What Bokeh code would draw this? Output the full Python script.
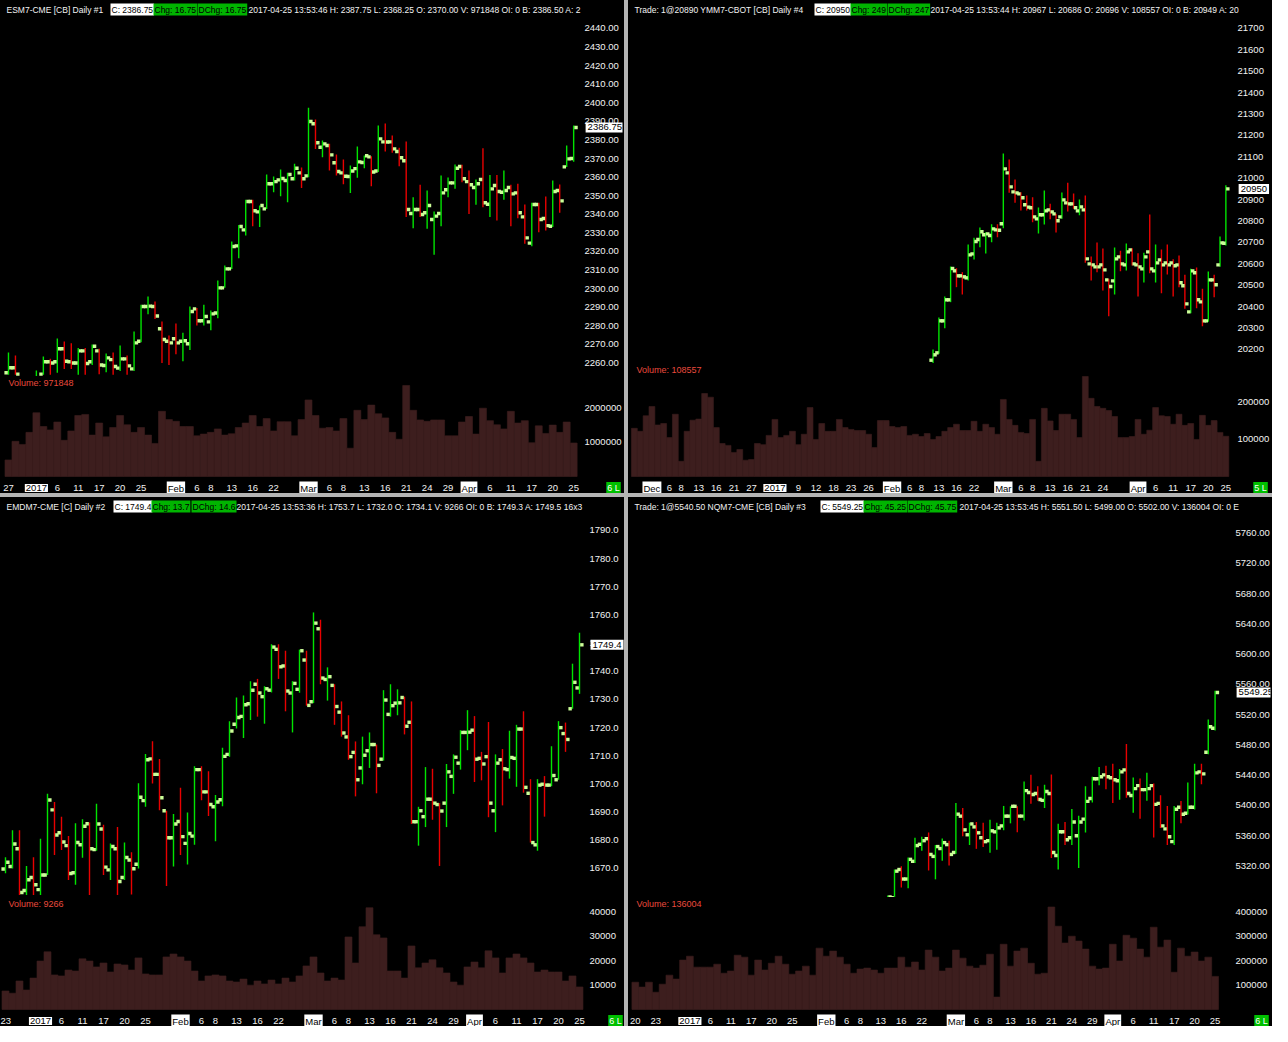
import numpy as np
from bokeh.plotting import figure
from bokeh.models import ColumnDataSource, Range1d, FixedTicker, PrintfTickFormatter, Label
from bokeh.layouts import row, column
from bokeh.transform import dodge
from bokeh.embed import file_html
from bokeh.resources import INLINE

nan = float("nan")

# ---------------- ESM7 (top-left) ----------------
es_day = list(range(82))
es_open = [2254.7, 2257.4, nan, nan, 2240.0, 2254.0, 2260.6, 2260.6, 2267.6, 2260.6,
           2260.0, 2266.5, 2260.6, 2266.5, 2258.6, 2261.8, 2257.2, 2262.2, 2256.8, 2271.7,
           2290.4, 2290.4, 2278.4, 2271.7, 2273.0, 2271.7, 2270.3, 2289.1, 2282.7, 2282.1,
           2286.9, 2300.4, 2310.6, 2323.0, 2331.6, 2346.9, 2341.3, 2342.9, 2356.4, 2358.5,
           2358.2, 2359.1, 2362.3, 2360.7, 2388.7, 2376.1, 2377.0, 2367.7, 2362.3, 2360.3,
           2364.6, 2367.9, 2370.9, 2363.3, 2379.0, 2379.0, 2373.8, 2368.8, 2340.4, 2342.6,
           2340.8, 2337.2, 2340.4, 2353.2, 2356.9, 2365.7, 2357.6, 2354.4, 2358.7, 2345.4,
           2355.5, 2351.9, 2354.4, 2351.5, 2338.6, 2324.5, 2345.3, 2337.7, 2333.6, 2352.8,
           2365.5, 2370.0]
es_high = [2265.6, 2264.0, nan, nan, 2255.9, 2263.5, 2262.2, 2273.1, 2271.5, 2270.6,
           2268.1, 2268.1, 2269.9, 2267.6, 2265.1, 2265.6, 2269.4, 2264.0, 2276.9, 2291.3,
           2295.7, 2293.0, 2282.3, 2274.8, 2281.2, 2276.2, 2290.4, 2289.6, 2291.3, 2288.2,
           2304.4, 2312.4, 2325.4, 2334.3, 2347.8, 2347.8, 2344.7, 2361.4, 2360.3, 2364.1,
           2362.3, 2367.2, 2365.2, 2397.3, 2391.0, 2379.7, 2377.9, 2372.2, 2369.5, 2366.3,
           2376.5, 2371.6, 2371.3, 2387.8, 2388.9, 2382.4, 2375.8, 2379.2, 2349.2, 2355.9,
           2352.8, 2341.5, 2360.9, 2359.8, 2366.8, 2366.6, 2363.6, 2358.7, 2375.6, 2361.2,
           2361.2, 2363.6, 2355.9, 2356.4, 2345.3, 2346.2, 2346.2, 2349.6, 2358.2, 2356.0,
           2377.0, 2387.75]
es_low = [2253.6, 2253.6, nan, nan, 2236.0, 2253.6, 2253.6, 2254.7, 2256.8, 2256.8,
          2253.6, 2253.6, 2258.9, 2253.9, 2255.0, 2253.6, 2255.7, 2253.6, 2255.7, 2271.2,
          2286.2, 2283.7, 2260.0, 2258.9, 2264.7, 2260.9, 2266.9, 2280.2, 2280.2, 2277.6,
          2284.1, 2300.4, 2310.6, 2316.4, 2328.6, 2333.6, 2333.1, 2342.9, 2351.9, 2349.7,
          2346.5, 2358.2, 2354.1, 2360.0, 2375.2, 2370.7, 2363.6, 2360.9, 2356.2, 2351.5,
          2359.6, 2364.8, 2355.1, 2362.7, 2373.8, 2373.1, 2365.9, 2338.5, 2332.5, 2338.5,
          2332.2, 2318.2, 2333.6, 2349.2, 2353.7, 2357.3, 2340.2, 2345.1, 2343.8, 2338.5,
          2336.6, 2347.8, 2333.6, 2337.9, 2324.1, 2322.8, 2330.4, 2331.3, 2333.1, 2340.8,
          2365.4, 2368.25]
es_close = [2257.4, 2254.0, nan, nan, 2247.0, 2260.6, 2260.0, 2267.6, 2260.9, 2260.0,
            2266.5, 2259.7, 2269.0, 2258.9, 2262.7, 2258.1, 2262.2, 2258.4, 2270.8, 2290.4,
            2290.6, 2285.3, 2272.6, 2270.8, 2270.8, 2271.9, 2287.7, 2282.7, 2285.0, 2286.4,
            2300.4, 2310.6, 2322.7, 2333.4, 2346.9, 2341.9, 2344.7, 2356.4, 2357.6, 2359.3,
            2361.4, 2364.8, 2359.1, 2389.9, 2378.5, 2377.9, 2372.0, 2363.0, 2360.5, 2363.3,
            2368.2, 2371.5, 2362.8, 2380.6, 2378.9, 2375.2, 2370.4, 2342.6, 2342.6, 2339.9,
            2344.7, 2339.0, 2351.5, 2356.9, 2364.8, 2359.1, 2355.9, 2356.4, 2346.2, 2353.7,
            2352.3, 2352.8, 2351.0, 2340.8, 2327.3, 2345.3, 2337.2, 2333.9, 2352.3, 2347.2,
            2369.8, 2386.75]
es_volume = [480000, 1020000, 930000, 1280000, 1850000, 1450000, 1350000, 1580000, 1050000, 1320000,
             1770000, 1800000, 1200000, 1550000, 1150000, 1420000, 1770000, 1500000, 1280000, 1420000,
             1200000, 960000, 1890000, 1650000, 1600000, 1450000, 1450000, 1180000, 1230000, 1280000,
             1380000, 1200000, 1240000, 1420000, 1550000, 1770000, 1450000, 1680000, 1320000, 1590000,
             1590000, 1180000, 1650000, 2220000, 1770000, 1400000, 1420000, 1320000, 1680000, 820000,
             1920000, 1650000, 2070000, 1820000, 1700000, 1280000, 1080000, 2640000, 1920000, 1640000,
             1600000, 1640000, 1640000, 1180000, 1180000, 1580000, 1740000, 1230000, 1980000, 1620000,
             1500000, 1380000, 1890000, 1550000, 1620000, 980000, 1470000, 1250000, 1490000, 1280000,
             1580000, 971848]
es_price_ticks = [2260, 2270, 2280, 2290, 2300, 2310, 2320, 2330, 2340, 2350,
                  2360, 2370, 2380, 2390, 2400, 2410, 2420, 2430, 2440]
es_volume_ticks = [1000000, 2000000]
es_date_pos = [0, 4, 7, 10, 13, 16, 19, 24, 27, 29, 32, 35, 38, 43, 46, 48, 51, 54, 57, 60, 63, 66, 69, 72, 75, 78, 81]
es_date_txt = ["27", "2017", "6", "11", "17", "20", "25", "Feb", "6", "8", "13", "16", "22", "Mar", "6", "8",
               "13", "16", "21", "24", "29", "Apr", "6", "11", "17", "20", "25"]

# ---------------- YMM7 (top-right) ----------------
ym_volume_day = list(range(-3, 99))
ym_price_day = list(range(48, 99))
ym_open = [20150, 20184.4, 20333.9, 20432.0, 20567.4, 20544.1, 20534.7, 20646.8, 20713.8, 20735.6,
           20732.5, 20758.9, 20787.0, 21025.1, 20936.4, 20927.0, 20875.7, 20861.7, 20810.3, 20829.0,
           20852.3, 20833.6, 20819.6, 20885.0, 20880.3, 20847.6, 20852.3, 20600.1, 20586.1, 20595.4,
           20525.4, 20520.7, 20632.8, 20595.4, 20665.5, 20595.4, 20576.7, 20656.1, 20567.4, 20618.8,
           20604.8, 20604.8, 20595.4, 20497.4, 20375.9, 20558.1, 20422.6, 20333.9, 20525.4, 20595.4,
           20696]
ym_high = [20200, 20349.4, 20447.5, 20587.7, 20579.9, 20561.2, 20690.4, 20721.6, 20769.8, 20748.0,
           20785.4, 20785.4, 21115.4, 21087.4, 20994.0, 20934.8, 20919.3, 20911.5, 20863.2, 20942.6,
           20880.3, 20833.6, 20933.3, 20978.4, 20928.6, 20900.6, 20919.3, 20634.4, 20699.7, 20671.7,
           20530.0, 20676.4, 20660.8, 20695.1, 20673.3, 20649.9, 20651.5, 20830.5, 20690.4, 20667.1,
           20690.4, 20621.9, 20639.0, 20548.7, 20576.7, 20583.0, 20483.4, 20564.3, 20548.7, 20727.8,
           20967]
ym_low = [20135, 20179.7, 20299.6, 20421.1, 20491.1, 20456.9, 20522.3, 20620.3, 20677.9, 20648.4,
          20701.3, 20724.7, 20766.7, 20931.7, 20885.0, 20849.2, 20849.2, 20794.7, 20741.8, 20783.8,
          20808.7, 20746.5, 20810.3, 20844.5, 20857.0, 20827.4, 20604.8, 20522.3, 20561.2, 20475.5,
          20355.7, 20456.9, 20565.9, 20569.0, 20592.3, 20447.5, 20512.9, 20556.5, 20512.9, 20463.1,
          20550.3, 20447.5, 20491.1, 20389.9, 20369.7, 20393.0, 20309.0, 20330.0, 20444.4, 20586.1,
          20686]
ym_close = [20175.1, 20333.9, 20432.0, 20578.3, 20544.1, 20539.4, 20642.1, 20704.4, 20749.6, 20740.2,
            20763.6, 20757.0, 21043.8, 20959.7, 20931.7, 20908.4, 20864.8, 20819.6, 20829.0, 20847.6,
            20843.0, 20801.0, 20899.0, 20880.3, 20861.7, 20866.3, 20623.4, 20595.4, 20586.0, 20572.1,
            20494.3, 20623.4, 20600.1, 20656.1, 20600.1, 20586.1, 20632.8, 20576.7, 20604.8, 20595.4,
            20595.4, 20590.8, 20511.4, 20413.3, 20567.4, 20432.0, 20333.9, 20525.4, 20502.1, 20698.2,
            20950]
ym_volume = [130000, 122000, 164000, 189000, 139000, 143000, 105000, 168000, 41000, 122000,
             152000, 155000, 224000, 214000, 132000, 89000, 84000, 65000, 73000, 44000,
             46000, 89000, 86000, 111000, 154000, 105000, 111000, 122000, 86000, 114000,
             186000, 100000, 143000, 122000, 122000, 154000, 132000, 127000, 124000, 124000,
             114000, 78000, 151000, 151000, 135000, 132000, 135000, 111000, 114000, 108000,
             116000, 100000, 108000, 122000, 132000, 141000, 124000, 124000, 149000, 122000,
             141000, 132000, 114000, 208000, 154000, 138000, 119000, 116000, 154000, 41000,
             184000, 150000, 124000, 168000, 168000, 154000, 105000, 270000, 211000, 189000,
             184000, 178000, 162000, 105000, 105000, 108000, 154000, 114000, 125000, 186000,
             164000, 162000, 141000, 168000, 138000, 143000, 100000, 165000, 138000, 151000,
             119000, 108557]
ym_price_ticks = [20200, 20300, 20400, 20500, 20600, 20700, 20800, 20900, 21000, 21100,
                  21200, 21300, 21400, 21500, 21600, 21700]
ym_volume_ticks = [100000, 200000]
ym_date_pos = [0, 3, 5, 8, 11, 14, 17, 21, 25, 28, 31, 34, 37, 41, 44, 46, 49, 52, 55, 60, 63, 65, 68, 71,
               74, 77, 83, 86, 89, 92, 95, 98]
ym_date_txt = ["Dec", "6", "8", "13", "16", "21", "27", "2017", "9", "12", "18", "23", "26", "Feb", "6", "8",
               "13", "16", "22", "Mar", "6", "8", "13", "16", "21", "24", "Apr", "6", "11", "17", "20", "25"]

# ---------------- EMDM7 (bottom-left) ----------------
emd_day = list(range(83))
emd_open = [1669.8, 1670.7, 1677.0, 1662.2, 1666.8, 1662.5, 1667.7, 1690.8, 1682.7, 1678.1,
            1668.5, 1678.4, 1685.9, 1676.7, 1684.0, 1669.5, 1677.0, 1666.8, 1673.0, 1671.5,
            1694.1, 1708.9, 1703.4, 1690.5, 1680.9, 1686.7, 1678.9, 1681.5, 1705.1, 1697.2,
            1691.9, 1694.4, 1710.5, 1721.2, 1724.0, 1728.5, 1735.4, 1731.0, 1733.3, 1747.8,
            1741.9, 1732.3, 1733.6, 1744.0, 1729.2, 1755.1, 1737.1, 1735.0, 1725.5, 1716.7,
            1711.2, 1705.7, 1711.8, 1714.0, 1708.8, 1724.7, 1728.7, 1730.7, 1721.9, 1686.6,
            1688.4, 1694.6, 1692.7, 1693.2, 1702.7, 1707.4, 1718.3, 1719.1, 1709.1, 1709.7,
            1690.5, 1708.6, 1705.1, 1709.1, 1719.5, 1696.7, 1678.4, 1699.9, 1699.6, 1701.5,
            1717.9, 1726.7, 1734.1]
emd_high = [1674.0, 1683.6, 1683.6, 1670.9, 1674.0, 1680.6, 1696.5, 1693.6, 1688.4, 1681.5,
            1686.1, 1687.5, 1686.3, 1693.0, 1685.5, 1678.9, 1684.7, 1679.2, 1675.8, 1700.3,
            1710.6, 1715.2, 1708.9, 1690.5, 1689.3, 1698.7, 1689.9, 1706.3, 1706.3, 1704.5,
            1696.1, 1712.9, 1722.3, 1730.7, 1731.4, 1736.5, 1737.3, 1734.7, 1749.6, 1749.6,
            1747.3, 1736.5, 1747.7, 1747.3, 1760.9, 1758.3, 1741.4, 1735.4, 1729.3, 1724.4,
            1715.1, 1716.8, 1718.3, 1714.0, 1733.3, 1735.4, 1733.6, 1731.0, 1729.3, 1691.9,
            1706.0, 1705.4, 1693.2, 1707.1, 1710.5, 1719.1, 1726.2, 1724.1, 1711.4, 1722.0,
            1710.5, 1712.4, 1718.9, 1721.0, 1725.8, 1701.7, 1701.7, 1702.8, 1713.4, 1722.3,
            1721.8, 1742.7, 1753.7]
emd_low = [1668.3, 1670.0, 1660.6, 1660.6, 1660.6, 1660.6, 1667.7, 1674.8, 1676.6, 1665.9,
           1664.2, 1673.8, 1660.6, 1676.3, 1667.7, 1665.9, 1660.6, 1665.9, 1660.8, 1670.0,
           1691.9, 1700.2, 1690.7, 1663.8, 1670.7, 1674.8, 1671.4, 1678.4, 1694.2, 1688.6,
           1679.7, 1692.1, 1709.7, 1719.7, 1716.3, 1722.7, 1723.9, 1721.4, 1732.5, 1737.3,
           1725.8, 1718.3, 1732.4, 1727.8, 1728.7, 1735.4, 1729.6, 1721.0, 1716.8, 1708.6,
           1695.6, 1699.9, 1705.7, 1696.7, 1708.3, 1723.9, 1724.4, 1717.6, 1685.8, 1678.1,
           1684.7, 1687.3, 1670.9, 1684.7, 1696.5, 1705.1, 1712.0, 1700.7, 1701.3, 1688.2,
           1682.9, 1692.4, 1701.9, 1699.0, 1696.9, 1679.2, 1676.3, 1688.4, 1699.2, 1701.5,
           1711.4, 1726.7, 1732.0]
emd_close = [1672.2, 1678.7, 1661.5, 1666.0, 1664.2, 1667.7, 1694.3, 1681.9, 1679.4, 1668.2,
             1679.2, 1685.0, 1677.0, 1685.8, 1670.5, 1677.8, 1665.4, 1673.9, 1669.9, 1695.3,
             1708.6, 1703.4, 1695.1, 1680.9, 1685.8, 1681.3, 1682.4, 1705.1, 1697.2, 1692.7,
             1693.6, 1709.8, 1718.8, 1723.6, 1728.1, 1733.3, 1732.3, 1733.8, 1748.6, 1741.6,
             1733.0, 1735.7, 1747.3, 1727.9, 1757.1, 1737.6, 1738.1, 1727.5, 1718.1, 1709.7,
             1701.5, 1710.2, 1714.0, 1706.6, 1729.8, 1727.8, 1728.8, 1720.5, 1686.6, 1690.5,
             1694.6, 1693.2, 1690.4, 1704.3, 1709.5, 1718.3, 1718.4, 1708.8, 1707.1, 1693.2,
             1707.4, 1705.4, 1709.4, 1719.5, 1698.8, 1679.2, 1699.6, 1699.6, 1703.0, 1720.0,
             1715.8, 1736.1, 1749.4]
emd_volume = [7600, 6700, 11700, 8000, 12900, 19900, 23700, 14200, 13800, 16200,
              15800, 20800, 19900, 17500, 19100, 15400, 18700, 18300, 16200, 21200,
              14600, 14200, 14200, 21600, 22800, 21600, 19900, 15800, 11700, 13800,
              14200, 13800, 11700, 11300, 12500, 10000, 11700, 10500, 12100, 10500,
              12900, 11300, 13800, 17900, 21600, 15000, 11700, 12900, 12100, 29800,
              19100, 34000, 41800, 30700, 29400, 15800, 15800, 12900, 26100, 17100,
              19100, 20400, 17100, 15000, 11300, 10000, 17500, 19500, 17100, 24100,
              21200, 15000, 21200, 22800, 21200, 19100, 15400, 16200, 15400, 15400,
              11700, 13800, 9266]
emd_price_ticks = [1670, 1680, 1690, 1700, 1710, 1720, 1730, 1740, 1750, 1760, 1770, 1780, 1790]
emd_volume_ticks = [10000, 20000, 30000, 40000]
emd_date_pos = [0, 5, 8, 11, 14, 17, 20, 25, 28, 30, 33, 36, 39, 44, 47, 49, 52, 55, 58, 61, 64, 67, 70, 73, 76, 79, 82]
emd_date_txt = ["23", "2017", "6", "11", "17", "20", "25", "Feb", "6", "8", "13", "16", "22", "Mar", "6", "8",
                "13", "16", "21", "24", "29", "Apr", "6", "11", "17", "20", "25"]

# ---------------- NQM7 (bottom-right) ----------------
nq_volume_day = list(range(86))
nq_price_day = list(range(37, 86))
nq_open = [5270, 5278, 5315.3, 5302.7, 5326.1, 5348.6, 5356.0, 5332.6, 5343.0, 5348.2,
           5337.8, 5385.8, 5361.2, 5371.6, 5357.3, 5353.4, 5365.1, 5372.9, 5385.8, 5398.8,
           5385.8, 5417.0, 5415.7, 5406.6, 5415.7, 5333.9, 5365.1, 5357.3, 5359.9, 5381.9,
           5409.2, 5435.2, 5440.4, 5436.5, 5432.6, 5446.9, 5413.1, 5426.1, 5420.9, 5426.1,
           5402.7, 5369.0, 5352.1, 5397.5, 5389.7, 5397.5, 5444.3, 5470.3, 5502.0]
nq_high = [5281, 5315.3, 5319.6, 5331.3, 5357.3, 5358.6, 5364.2, 5347.7, 5356.4, 5353.4,
           5403.2, 5396.7, 5377.2, 5378.1, 5377.2, 5381.1, 5377.2, 5399.3, 5398.8, 5398.8,
           5431.7, 5440.4, 5425.2, 5427.4, 5441.0, 5375.9, 5378.1, 5395.4, 5386.3, 5425.2,
           5437.8, 5450.8, 5452.5, 5455.1, 5448.2, 5481.1, 5436.9, 5435.6, 5443.0, 5429.1,
           5413.5, 5399.3, 5399.3, 5405.8, 5430.4, 5455.1, 5455.1, 5513.5, 5551.5]
nq_low = [5262, 5275, 5291.5, 5290.6, 5323.9, 5340.0, 5314.0, 5302.3, 5327.0, 5320.5,
          5336.0, 5359.4, 5347.7, 5342.6, 5345.2, 5337.4, 5341.3, 5367.2, 5376.3, 5364.6,
          5380.2, 5402.3, 5406.0, 5396.7, 5330.4, 5315.3, 5347.7, 5347.7, 5317.4, 5364.2,
          5404.0, 5426.5, 5421.3, 5403.2, 5407.5, 5410.1, 5390.2, 5382.4, 5406.2, 5357.7,
          5370.3, 5347.7, 5347.7, 5376.3, 5388.0, 5394.5, 5427.8, 5467.7, 5499.0]
nq_close = [5279, 5313.1, 5302.7, 5328.7, 5346.9, 5353.4, 5335.2, 5345.6, 5350.8, 5335.2,
            5388.4, 5367.7, 5375.5, 5363.8, 5352.1, 5366.4, 5370.3, 5385.8, 5398.8, 5385.8,
            5419.6, 5414.4, 5407.9, 5418.3, 5337.8, 5365.1, 5354.7, 5378.1, 5378.1, 5405.3,
            5435.2, 5437.8, 5437.8, 5433.9, 5444.3, 5415.7, 5422.2, 5420.9, 5422.2, 5401.4,
            5372.9, 5358.6, 5394.9, 5388.4, 5397.5, 5443.0, 5441.7, 5504.0, 5549.25]
nq_volume = [112000, 92000, 112000, 71000, 104000, 141000, 125000, 203000, 219000, 174000,
             174000, 174000, 186000, 149000, 158000, 223000, 215000, 141000, 203000, 162000,
             190000, 219000, 186000, 145000, 158000, 178000, 141000, 252000, 219000, 240000,
             215000, 186000, 149000, 166000, 170000, 162000, 149000, 170000, 170000, 215000,
             174000, 195000, 162000, 244000, 215000, 158000, 170000, 244000, 211000, 178000,
             170000, 182000, 227000, 51000, 268000, 178000, 240000, 252000, 190000, 145000,
             149000, 421000, 342000, 273000, 301000, 281000, 248000, 178000, 166000, 170000,
             268000, 199000, 305000, 293000, 248000, 215000, 338000, 256000, 285000, 153000,
             252000, 219000, 236000, 199000, 215000, 136004]
nq_price_ticks = [5320, 5360, 5400, 5440, 5480, 5520, 5560, 5600, 5640, 5680, 5720, 5760]
nq_volume_ticks = [100000, 200000, 300000, 400000]
nq_date_pos = [0, 3, 8, 11, 14, 17, 20, 23, 28, 31, 33, 36, 39, 42, 47, 50, 52, 55, 58, 61, 64, 67, 70, 73, 76,
               79, 82, 85]
nq_date_txt = ["20", "23", "2017", "6", "11", "17", "20", "25", "Feb", "6", "8", "13", "16", "22", "Mar", "6",
               "8", "13", "16", "21", "24", "29", "Apr", "6", "11", "17", "20", "25"]

BOXED = {"2017", "Dec", "Feb", "Mar", "Apr"}

# ---------------- styles ----------------
BG = "#000000"
UP = "#00e400"
DN = "#e80000"
SQ = "#ccff99"
VOLC = "#3d1e1e"
TXT = "#f2f2f2"
HGREEN = "#00b400"
FONT = "Liberation Sans"
AX = 17          # height of the date row under the volume bars
XSTAND = -9      # pulls the date labels up into the date row


def style_axis(ax, standoff, size="9.5px"):
    ax.axis_line_color = None
    ax.major_tick_line_color = None
    ax.minor_tick_line_color = None
    ax.major_tick_out = 0
    ax.major_tick_in = 0
    ax.major_label_text_color = TXT
    ax.major_label_text_font = FONT
    ax.major_label_text_font_size = size
    ax.major_label_standoff = standoff


def make_panel(cfg):
    W = cfg["W"]
    ppb = cfg["ppb"]
    x0 = cfg["x0"]
    xr = Range1d(x0, x0 + W / ppb)
    lab_px = cfg["lab_px"]          # where the right-hand tick labels start
    ystand = lab_px - W
    Hp, Hv = cfg["Hp"], cfg["Hv"]

    # ---- price ----
    p = figure(width=W, height=Hp, x_range=xr, y_range=Range1d(*cfg["pr"]),
               x_axis_location=None, y_axis_location="right",
               toolbar_location=None, output_backend="svg",
               background_fill_color=BG, border_fill_color=BG, outline_line_color=None,
               min_border=0)
    p.grid.visible = False
    ya = p.yaxis[0]
    style_axis(ya, ystand)
    ya.ticker = FixedTicker(ticks=cfg["pticks"])
    ya.formatter = PrintfTickFormatter(format=cfg["pfmt"])

    o, h, l, c = (np.array(a, dtype=float) for a in cfg["ohlc"])
    col = [UP if cc >= oo else DN for oo, cc in zip(o, c)]
    src = ColumnDataSource(dict(x=cfg["pday"], o=o, h=h, l=l, c=c, col=col))
    p.segment(x0="x", y0="l", x1="x", y1="h", line_color="col", line_width=1.4, source=src)
    p.scatter(x=dodge("x", -0.34, range=xr), y="o", marker="square", size=3.4,
              fill_color=SQ, line_color=None, source=src)
    p.scatter(x=dodge("x", 0.34, range=xr), y="c", marker="square", size=3.4,
              fill_color=SQ, line_color=None, source=src)

    for (hx, txt, kind) in cfg["header"]:
        kw = dict(x=hx, y=Hp - 9, x_units="screen", y_units="screen", text=txt,
                  text_font=FONT, text_font_size="8.5px", text_baseline="middle",
                  text_align="left")
        if kind == "plain":
            kw.update(text_color=TXT)
        elif kind == "white":
            kw.update(text_color="black", background_fill_color="white", padding=1)
        else:
            kw.update(text_color="black", background_fill_color=HGREEN, padding=1)
        p.add_layout(Label(**kw))

    p.add_layout(Label(x=x0 + (lab_px + 1) / ppb, y=cfg["last"], text=cfg["last_txt"],
                       text_font=FONT, text_font_size="9.5px", text_color="black",
                       background_fill_color="white", text_baseline="middle",
                       text_align="left", padding=2))

    # ---- volume ----
    vtop = cfg["vtop"]
    vpp = vtop / Hv                      # volume units per pixel
    v = figure(width=W, height=Hv + AX, x_range=xr, y_range=Range1d(-AX * vpp, vtop),
               x_axis_location="below", y_axis_location="right",
               toolbar_location=None, output_backend="svg",
               background_fill_color=BG, border_fill_color=BG, outline_line_color=None,
               min_border=0)
    v.grid.visible = False
    vy = v.yaxis[0]
    style_axis(vy, ystand)
    vy.ticker = FixedTicker(ticks=cfg["vticks"])
    vy.formatter = PrintfTickFormatter(format="%d")
    vx = v.xaxis[0]
    style_axis(vx, XSTAND)
    vx.ticker = FixedTicker(ticks=cfg["dpos"])
    vx.major_label_overrides = {pos: ("" if t in BOXED else t) for pos, t in zip(cfg["dpos"], cfg["dtxt"])}

    vsrc = ColumnDataSource(dict(x=cfg["vday"], v=cfg["vol"]))
    v.vbar(x="x", top="v", width=1.0, source=vsrc, fill_color=VOLC, line_color=VOLC, line_width=0.6)

    v.add_layout(Label(x=8, y=vtop - 6 * vpp, x_units="screen", text=cfg["vol_label"],
                       text_font=FONT, text_font_size="9px", text_color="#ea4a3c",
                       text_baseline="middle", text_align="left"))
    row_y = -11.5 * vpp
    for pos, t in zip(cfg["dpos"], cfg["dtxt"]):
        if t in BOXED:
            v.add_layout(Label(x=pos, y=row_y, text=t, text_font=FONT, text_font_size="9.5px",
                               text_color="black", background_fill_color="white",
                               text_align="center", text_baseline="middle", padding=1))
    v.add_layout(Label(x=x0 + (W - 9) / ppb, y=row_y, text=cfg["corner"], text_font=FONT,
                       text_font_size="9px", text_color="white", background_fill_color="#00c000",
                       text_align="center", text_baseline="middle", padding=1))
    return column(p, v, spacing=0, styles={"background-color": BG})


es_panel = make_panel(dict(
    W=624, ppb=7.0, x0=-1.143, lab_px=586, Hp=376, Hv=100, pr=(2252.7, 2455.06), vtop=2900000,
    pticks=es_price_ticks, pfmt="%.2f", vticks=es_volume_ticks,
    ohlc=(es_open, es_high, es_low, es_close), pday=es_day, vday=es_day, vol=es_volume,
    dpos=es_date_pos, dtxt=es_date_txt, last=es_close[-1], last_txt="2386.75",
    vol_label="Volume: 971848", corner="6 L",
    header=[(6, "ESM7-CME [CB]  Daily  #1", "plain"), (110, "C: 2386.75", "white"),
            (153, "Chg: 16.75", "green"), (197, "DChg: 16.75", "green"),
            (248, "2017-04-25 13:53:46 H: 2387.75 L: 2368.25 O: 2370.00 V: 971848 OI: 0 B: 2386.50 A: 2", "plain")]))

ym_panel = make_panel(dict(
    W=644, ppb=5.884, x0=-4.0, lab_px=612, Hp=363, Hv=113, pr=(20134.6, 21830.0), vtop=305000,
    pticks=ym_price_ticks, pfmt="%d", vticks=ym_volume_ticks,
    ohlc=(ym_open, ym_high, ym_low, ym_close), pday=ym_price_day, vday=ym_volume_day, vol=ym_volume,
    dpos=ym_date_pos, dtxt=ym_date_txt, last=ym_close[-1], last_txt="20950",
    vol_label="Volume: 108557", corner="5 L",
    header=[(6, "Trade: 1@20890   YMM7-CBOT [CB]  Daily  #4", "plain"), (186, "C: 20950", "white"),
            (222, "Chg: 249", "green"), (259, "DChg: 247", "green"),
            (302, "2017-04-25 13:53:44 H: 20967 L: 20686 O: 20696 V: 108557 OI: 0 B: 20949 A: 20", "plain")]))

emd_panel = make_panel(dict(
    W=624, ppb=7.0, x0=-0.714, lab_px=589, Hp=400, Hv=112, pr=(1659.7, 1801.7), vtop=46000,
    pticks=emd_price_ticks, pfmt="%.1f", vticks=emd_volume_ticks,
    ohlc=(emd_open, emd_high, emd_low, emd_close), pday=emd_day, vday=emd_day, vol=emd_volume,
    dpos=emd_date_pos, dtxt=emd_date_txt, last=emd_close[-1], last_txt="1749.4",
    vol_label="Volume: 9266", corner="6 L",
    header=[(6, "EMDM7-CME [C]  Daily  #2", "plain"), (113, "C: 1749.4", "white"),
            (151, "Chg: 13.7", "green"), (191, "DChg: 14.6", "green"),
            (236, "2017-04-25 13:53:36 H: 1753.7 L: 1732.0 O: 1734.1 V: 9266 OI: 0 B: 1749.3 A: 1749.5 16x3", "plain")]))

nq_panel = make_panel(dict(
    W=644, ppb=6.842, x0=-1.0, lab_px=609, Hp=400, Hv=112, pr=(5278.3, 5806.9), vtop=460000,
    pticks=nq_price_ticks, pfmt="%.2f", vticks=nq_volume_ticks,
    ohlc=(nq_open, nq_high, nq_low, nq_close), pday=nq_price_day, vday=nq_volume_day, vol=nq_volume,
    dpos=nq_date_pos, dtxt=nq_date_txt, last=nq_close[-1], last_txt="5549.25",
    vol_label="Volume: 136004", corner="6 L",
    header=[(6, "Trade: 1@5540.50   NQM7-CME [CB]  Daily  #3", "plain"), (192, "C: 5549.25", "white"),
            (235, "Chg: 45.25", "green"), (279, "DChg: 45.75", "green"),
            (331, "2017-04-25 13:53:45 H: 5551.50 L: 5499.00 O: 5502.00 V: 136004 OI: 0 E", "plain")]))

GRAY = {"background-color": "#b4b4b4"}
left = column(es_panel, emd_panel, spacing=4, styles=GRAY)
right = column(ym_panel, nq_panel, spacing=4, styles=GRAY)
layout = row(left, right, spacing=4, styles=GRAY)

open("out.html", "w").write(file_html(layout, INLINE, title="Futures charts"))
